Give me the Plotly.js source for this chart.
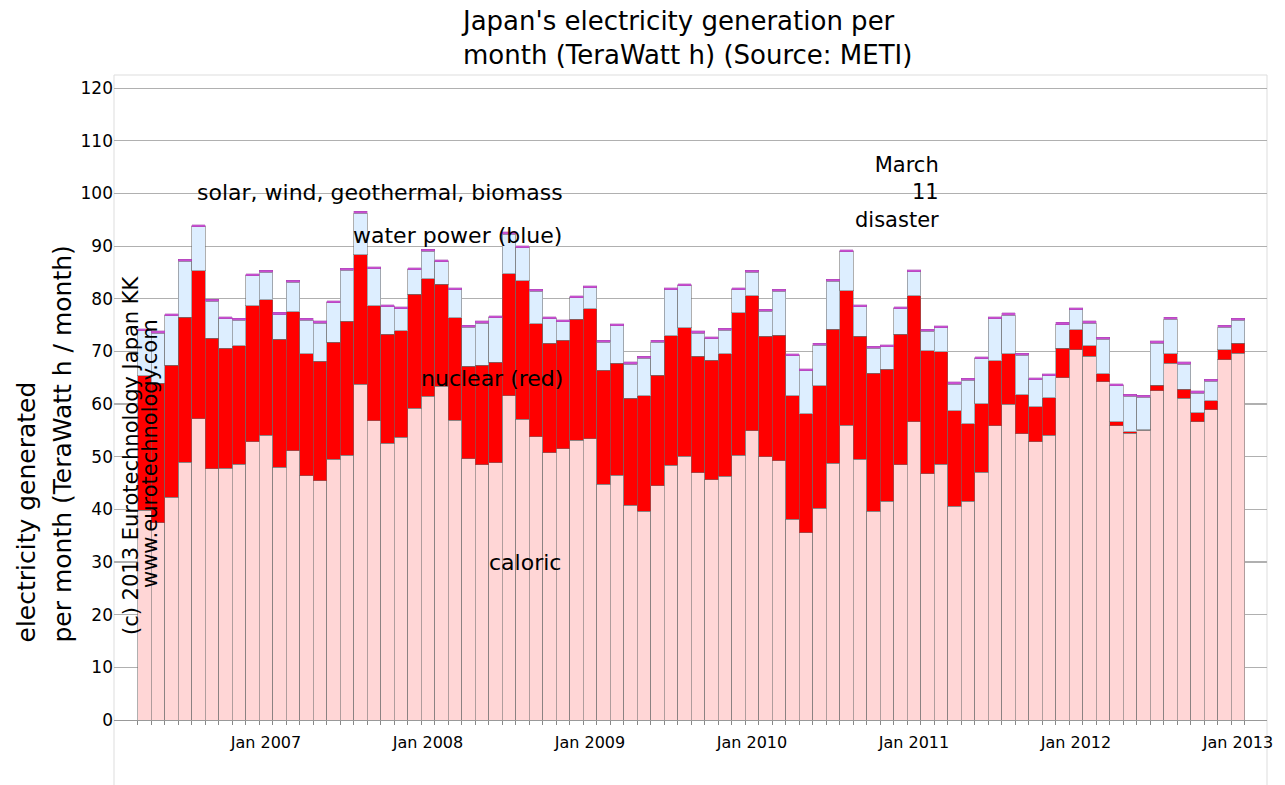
<!DOCTYPE html>
<html>
<head>
<meta charset="utf-8">
<script src="https://cdn.plot.ly/plotly-3.0.1.min.js"></script>
<style>html,body{margin:0;padding:0;background:#fff;}#chart{width:1285px;height:785px;}</style>
</head>
<body>
<div id="chart"></div>
<script>
// Months Apr 2006 .. Jan 2013
var months = ["2006-04","2006-05","2006-06","2006-07","2006-08","2006-09","2006-10","2006-11","2006-12",
"2007-01","2007-02","2007-03","2007-04","2007-05","2007-06","2007-07","2007-08","2007-09","2007-10","2007-11","2007-12",
"2008-01","2008-02","2008-03","2008-04","2008-05","2008-06","2008-07","2008-08","2008-09","2008-10","2008-11","2008-12",
"2009-01","2009-02","2009-03","2009-04","2009-05","2009-06","2009-07","2009-08","2009-09","2009-10","2009-11","2009-12",
"2010-01","2010-02","2010-03","2010-04","2010-05","2010-06","2010-07","2010-08","2010-09","2010-10","2010-11","2010-12",
"2011-01","2011-02","2011-03","2011-04","2011-05","2011-06","2011-07","2011-08","2011-09","2011-10","2011-11","2011-12",
"2012-01","2012-02","2012-03","2012-04","2012-05","2012-06","2012-07","2012-08","2012-09","2012-10","2012-11","2012-12",
"2013-01"];

// TWh per month
var caloric = [39.8,37.5,42.3,49.0,57.2,47.7,47.8,48.6,52.8,
54.1,48.0,51.1,46.4,45.4,49.5,50.3,63.8,56.8,52.6,53.7,59.2,
61.5,63.4,56.9,49.6,48.5,48.9,61.6,57.1,53.8,50.8,51.5,53.1,
53.4,44.8,46.5,40.8,39.6,44.5,48.4,50.1,47.0,45.6,46.3,50.3,
54.9,50.0,49.2,38.1,35.6,40.2,48.8,56.0,49.5,39.6,41.5,48.5,
56.6,46.8,48.6,40.6,41.5,47.1,55.9,60.0,54.4,52.8,54.1,65.0,
70.3,69.1,64.2,55.9,54.5,55.0,62.5,67.8,61.1,56.6,58.9,68.4,
69.7];

var nuclear = [25.6,26.5,25.1,27.5,28.1,24.8,22.8,22.5,25.9,
25.7,24.3,26.4,23.2,22.7,22.2,25.4,24.6,21.9,20.7,20.2,21.7,
22.3,19.4,19.5,17.6,18.9,19.0,23.2,26.3,21.5,20.8,20.6,23.0,
24.7,21.6,21.3,20.3,22.0,21.0,24.6,24.4,22.1,22.7,23.3,27.0,
25.7,22.9,23.9,23.5,22.6,23.3,25.4,25.5,23.4,26.3,25.1,24.8,
24.0,23.3,21.3,18.1,14.8,13.0,12.3,9.6,7.4,6.7,7.1,5.6,
3.8,2.0,1.6,0.7,0.2,0.1,1.1,1.8,1.7,1.8,1.7,1.9,
1.9];

var water = [8.5,9.5,9.4,10.6,8.4,7.0,5.6,4.8,5.7,
5.2,4.7,5.6,6.3,7.3,7.5,9.7,7.8,7.0,5.2,4.2,4.6,
5.2,4.2,5.3,7.4,8.0,8.5,7.5,6.3,6.1,4.6,3.5,4.1,
4.0,5.3,7.1,6.5,7.1,6.2,8.7,8.0,4.4,4.1,4.4,4.4,
4.4,4.7,8.3,7.6,8.1,7.7,9.1,7.4,5.6,4.7,4.3,4.8,
4.5,3.7,4.6,5.1,8.2,8.5,8.0,7.3,7.5,5.1,4.2,4.5,
3.8,4.3,6.5,6.9,6.8,6.2,8.0,6.5,4.8,3.7,3.7,4.3,
4.3];

var renewables = [0.4,0.4,0.4,0.4,0.4,0.4,0.4,0.4,0.4,
0.4,0.4,0.4,0.4,0.4,0.4,0.4,0.4,0.4,0.4,0.4,0.4,
0.4,0.4,0.4,0.4,0.4,0.4,0.4,0.4,0.4,0.4,0.4,0.4,
0.4,0.4,0.4,0.4,0.4,0.4,0.4,0.4,0.4,0.4,0.4,0.4,
0.4,0.4,0.4,0.4,0.4,0.4,0.4,0.4,0.4,0.4,0.4,0.4,
0.4,0.4,0.4,0.4,0.4,0.4,0.4,0.4,0.4,0.4,0.4,0.4,
0.4,0.4,0.4,0.4,0.4,0.4,0.4,0.4,0.4,0.4,0.4,0.4,
0.4];

var yTicks = [0,10,20,30,40,50,60,70,80,90,100,110,120];
var tickText = months.map(function(m){
  var p = m.split("-");
  return p[1] === "01" ? "Jan " + p[0] : "";
});

var FONT = "'DejaVu Sans', sans-serif";
var outline = {color: "rgba(110,110,110,0.55)", width: 1};

var traces = [
  {type:"bar", name:"caloric", x:months, y:caloric, marker:{color:"#ffd6d6", line:outline}},
  {type:"bar", name:"nuclear", x:months, y:nuclear, marker:{color:"#ff0000", line:outline}},
  {type:"bar", name:"water", x:months, y:water, marker:{color:"#ddeeff", line:outline}},
  {type:"bar", name:"solar, wind, geothermal, biomass", x:months, y:renewables, marker:{color:"#c84fd0", line:{color:"rgba(150,60,160,0.6)", width:0.5}}}
];

function px(x){ return (x - 114) / 1153; }
function py(y){ return (720 - y) / 645; }

var annFont = {family: FONT, size: 22, color: "#000"};
function ann(text, x, y, extra){
  var a = {text:text, xref:"paper", yref:"paper", x:px(x), y:py(y), xanchor:"center", yanchor:"middle", showarrow:false, font:annFont};
  for (var k in extra) a[k] = extra[k];
  return a;
}

var layout = {
  width: 1285, height: 785,
  margin: {l:114, r:18, t:75, b:65},
  paper_bgcolor: "#fff", plot_bgcolor: "#fff",
  barmode: "stack", bargap: 0,
  showlegend: false,
  font: {family: FONT, color: "#000"},
  title: {
    text: "Japan's electricity generation per<br>month (TeraWatt h) (Source: METI)",
    font: {family: FONT, size: 26, color: "#000"},
    xref: "container", x: 463/1285, xanchor: "left",
    yref: "container", y: 1 - 30/785, yanchor: "middle"
  },
  xaxis: {
    type: "category",
    range: [-2.256, 83.15],
    tickmode: "array", tickvals: months, ticktext: tickText,
    tickson: "boundaries",
    ticks: "outside", ticklen: 4, tickcolor: "#888", tickwidth: 1,
    ticklabelstandoff: 8,
    showgrid: false, zeroline: false,
    showline: true, linecolor: "#999", linewidth: 1,
    tickfont: {family: FONT, size: 16, color: "#000"},
    tickangle: 0
  },
  yaxis: {
    range: [0, 122.5],
    tickmode: "array", tickvals: yTicks,
    showgrid: true, gridcolor: "#b0b0b0", gridwidth: 1.2,
    zeroline: false, showline: false, ticks: "",
    tickfont: {family: FONT, size: 17, color: "#000"}
  },
  shapes: [
    {type:"rect", xref:"paper", yref:"paper", x0:0, x1:1, y0:-0.12, y1:1,
     line:{color:"#dddddd", width:1}, fillcolor:"rgba(0,0,0,0)", layer:"below"}
  ],
  annotations: [
    ann("solar, wind, geothermal, biomass", 380, 192),
    ann("water power (blue)", 457, 236),
    ann("nuclear (red)", 492, 378),
    ann("caloric", 525, 562),
    ann("March<br>11<br>disaster", 941, 192, {xanchor:"right", align:"right", font:{family:FONT, size:21, color:"#000"}}),
    ann("(c) 2013 Eurotechnology Japan KK", 131, 455, {textangle:-90, font:{family:FONT, size:21, color:"#000"}}),
    ann("www.eurotechnology.com", 150, 454, {textangle:-90, font:{family:FONT, size:21, color:"#000"}}),
    ann("electricity generated", 26, 645, {textangle:-90, yanchor:"bottom", font:{family:FONT, size:25, color:"#000"}}),
    ann("per month (TeraWatt h / month)", 62, 645, {textangle:-90, yanchor:"bottom", font:{family:FONT, size:25, color:"#000"}})
  ]
};

Plotly.newPlot("chart", traces, layout, {displayModeBar:false, staticPlot:true});
</script>
</body>
</html>
